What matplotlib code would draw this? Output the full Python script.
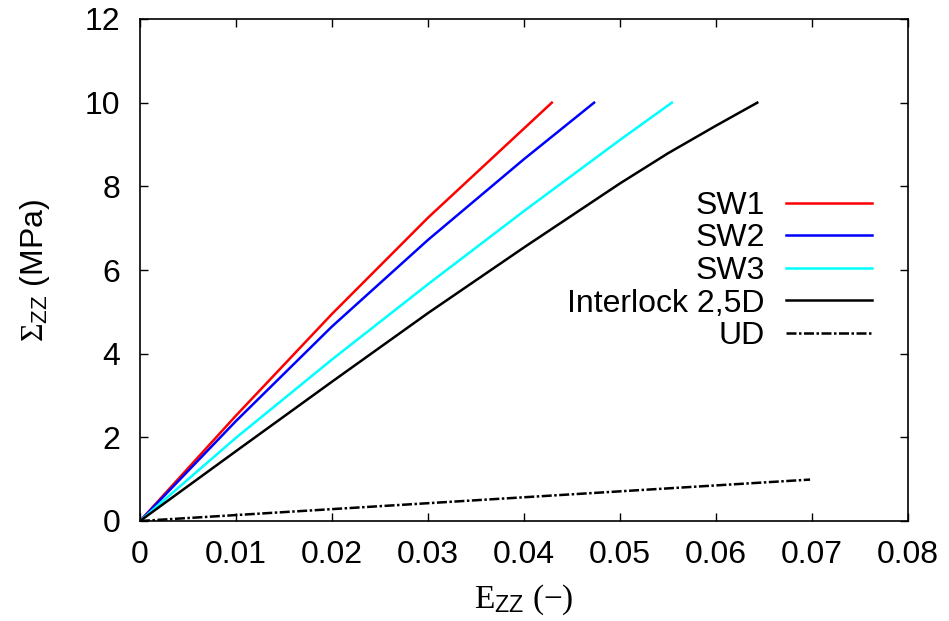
import matplotlib
matplotlib.use("Agg")
import matplotlib.pyplot as plt

plt.rcParams['font.family'] = ['Liberation Sans', 'DejaVu Sans']
plt.rcParams['mathtext.fontset'] = 'custom'
plt.rcParams['mathtext.rm'] = 'Liberation Serif'
plt.rcParams['mathtext.it'] = 'Liberation Serif:italic'
plt.rcParams['mathtext.sf'] = 'Liberation Sans'

# Data
sw1_x = [0.0, 0.01, 0.02, 0.03, 0.0429]
sw1_y = [0.0, 2.52, 4.95, 7.25, 10.0]
sw2_x = [0.0, 0.01, 0.02, 0.03, 0.04, 0.0473]
sw2_y = [0.0, 2.39, 4.65, 6.72, 8.65, 10.0]
sw3_x = [0.0, 0.01, 0.02, 0.03, 0.04, 0.05, 0.0554]
sw3_y = [0.0, 1.99, 3.86, 5.66, 7.41, 9.11, 10.0]
inter_x = [0.0, 0.01, 0.02, 0.03, 0.04, 0.05, 0.055, 0.06, 0.0643]
inter_y = [0.0, 1.67, 3.33, 4.97, 6.54, 8.07, 8.79, 9.45, 10.0]
ud_x = [0.0, 0.0698]
ud_y = [0.0, 0.99]

x_ticks = [0, 0.01, 0.02, 0.03, 0.04, 0.05, 0.06, 0.07, 0.08]
x_ticklabels = ["0", "0.01", "0.02", "0.03", "0.04", "0.05", "0.06", "0.07", "0.08"]
y_ticks = [0, 2, 4, 6, 8, 10, 12]

fs = 23
fig = plt.figure(figsize=(9.49, 6.21), dpi=100)
ax = fig.add_axes([140/949, 100/621, 768/949, 502/621])

lw = 1.8
ax.plot(sw1_x, sw1_y, color='#ff0000', lw=lw, label='SW1')
ax.plot(sw2_x, sw2_y, color='#0000ff', lw=lw, label='SW2')
ax.plot(sw3_x, sw3_y, color='#00ffff', lw=lw, label='SW3')
ax.plot(inter_x, inter_y, color='black', lw=lw, label='Interlock 2,5D')
ax.plot(ud_x, ud_y, color='black', lw=lw, dashes=(4.0, 1.0, 1.0, 1.0), label='UD')

ax.set_xlim(0, 0.08)
ax.set_ylim(0, 12)
ax.set_xticks(x_ticks)
ax.set_xticklabels(x_ticklabels)
ax.set_yticks(y_ticks)
ax.tick_params(direction='in', length=6, width=1, top=True, right=True,
               labelsize=fs, color='black')
ax.tick_params(axis='x', pad=14)
ax.tick_params(axis='y', pad=14)
for s in ax.spines.values():
    s.set_linewidth(1.2)

ax.set_xlabel(r"$\mathrm{E}_{\mathsf{ZZ}}\ \mathrm{(-)}$", fontsize=24, labelpad=9)
ax.set_ylabel(r"$\Sigma_{\mathsf{ZZ}}$ (MPa)", fontsize=fs, labelpad=24)

leg = ax.legend(loc='center right', bbox_to_anchor=(0.953, 0.498), frameon=False,
                markerfirst=False, fontsize=fs, handlelength=2.7, handletextpad=0.65,
                labelspacing=0.08, borderpad=0, borderaxespad=0)

fig.savefig("out.png", dpi=100)
